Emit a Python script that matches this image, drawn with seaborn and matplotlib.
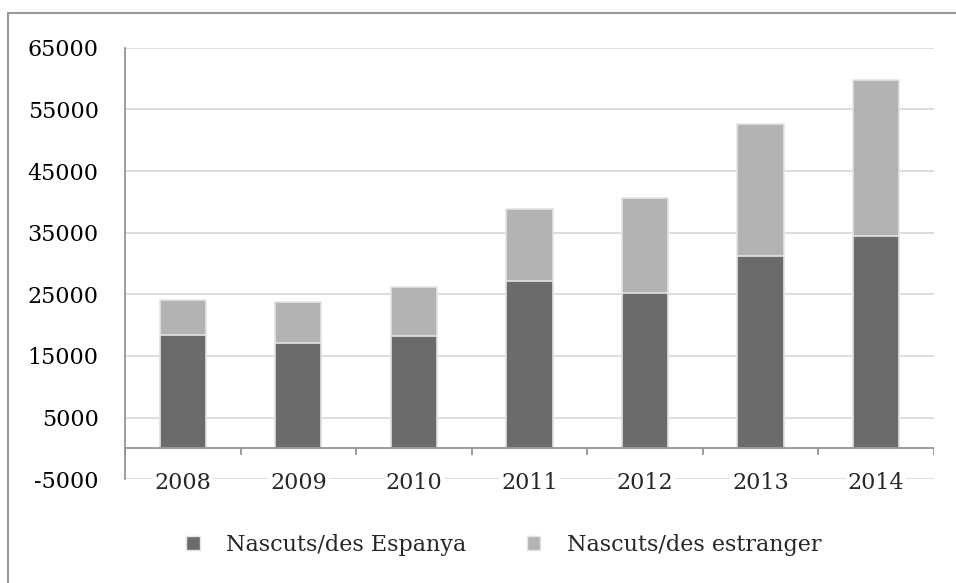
import numpy as np
import pandas as pd
import matplotlib
matplotlib.use("Agg")
import matplotlib.pyplot as plt
import seaborn as sns
from matplotlib.patches import Patch, Rectangle

# values
years = ["2008", "2009", "2010", "2011", "2012", "2013", "2014"]
nascuts_espanya = [18400, 17100, 18300, 27100, 25200, 31300, 34400]
nascuts_estranger = [5650, 6600, 7900, 11800, 15500, 21300, 25400]
y_ticks = [-5000, 5000, 15000, 25000, 35000, 45000, 55000, 65000]

dark = "#6b6b6b"
light = "#b3b3b3"
axis_grey = "#8c8c8c"

df = pd.DataFrame({"year": years, "espanya": nascuts_espanya, "estranger": nascuts_estranger})
df["total"] = df["espanya"] + df["estranger"]

sns.set_style("white")
plt.rcParams["font.family"] = ["DejaVu Serif"]

fig = plt.figure(figsize=(9.56, 5.83), dpi=100)
ax = fig.add_axes([0.1308, 0.178, 0.846, 0.74])

# stacked bars: total first (light), then the Spain part on top of it (dark)
sns.barplot(data=df, x="year", y="total", color=light, width=0.4, saturation=1,
            edgecolor="#e4e4e4", linewidth=1.2, ax=ax, zorder=3)
sns.barplot(data=df, x="year", y="espanya", color=dark, width=0.4, saturation=1,
            edgecolor="#e4e4e4", linewidth=1.2, ax=ax, zorder=4)

ax.set_ylim(-5000, 65000)
ax.set_xlim(-0.5, len(years) - 0.5)
ax.set_yticks(y_ticks)
ax.set_yticklabels([str(t) for t in y_ticks])
ax.yaxis.grid(True, color="#dedede", linewidth=1.4)
ax.set_axisbelow(True)
ax.xaxis.set_zorder(0.7)  # year labels drawn over the -5000 grid line
ax.set_xlabel("")
ax.set_ylabel("")

for s in ["top", "right", "bottom"]:
    ax.spines[s].set_visible(False)
ax.spines["left"].set_color(axis_grey)
ax.spines["left"].set_linewidth(1.2)

ax.tick_params(axis="y", length=6, width=1.2, pad=13, labelsize=16, colors="black")
ax.tick_params(axis="y", color=axis_grey)
ax.tick_params(axis="x", length=0, pad=-5, labelsize=16)
for lab in ax.get_xticklabels():
    lab.set_bbox(dict(facecolor="white", edgecolor="none", pad=1.5))

# zero line with small category separators hanging below it
ax.axhline(0, color=axis_grey, linewidth=1.2, zorder=5)
ax.vlines(np.arange(-0.5, len(years)), -1150, 0, color=axis_grey, linewidth=1.2, zorder=5)

handles = [Patch(facecolor=dark, edgecolor="#e4e4e4", label="Nascuts/des Espanya"),
           Patch(facecolor=light, edgecolor="#e4e4e4", label="Nascuts/des estranger")]
fig.legend(handles=handles, loc="center", bbox_to_anchor=(0.527, 0.065), ncol=2,
           frameon=False, fontsize=16, handlelength=0.6, handleheight=0.6,
           handletextpad=1.2, columnspacing=2.7)

# outer chart border (cut off on the right and bottom like the original)
fig.patches.append(Rectangle((8 / 956, -0.1), 1.2, 0.978 + 0.1, transform=fig.transFigure,
                             fill=False, edgecolor="#999999", linewidth=1.5))

fig.savefig("out.png", dpi=100)
